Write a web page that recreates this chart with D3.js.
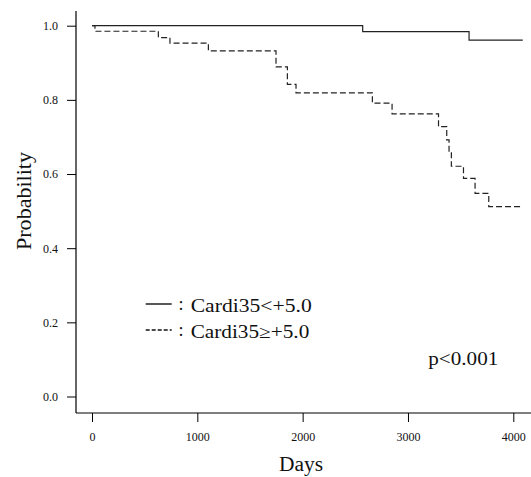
<!DOCTYPE html>
<html>
<head>
<meta charset="utf-8">
<title>Survival</title>
<script src="https://d3js.org/d3.v7.min.js"></script>
<style>
  body { margin: 0; background: #fff; }
  text { font-family: "Liberation Serif", serif; fill: #111; }
</style>
</head>
<body>
<div id="chart"></div>
<script>
// values
const xTicks = [0, 1000, 2000, 3000, 4000];
const yTicks = [0, 0.2, 0.4, 0.6, 0.8, 1.0];

const lowDays = [0, 2570, 3580, 4090];
const lowProb = [1.0, 0.984, 0.961, 0.961];

const highDays = [0, 28, 630, 740, 1105, 1747, 1855, 1937, 2662, 2849, 3290, 3368, 3390, 3412, 3527, 3637, 3767, 4081];
const highProb = [1.0, 0.985, 0.968, 0.953, 0.932, 0.889, 0.842, 0.819, 0.791, 0.762, 0.728, 0.692, 0.657, 0.621, 0.588, 0.548, 0.512, 0.512];

const legendLabels = ["Cardi35<+5.0", "Cardi35\u2265+5.0"];
const pText = "p<0.001";

const width = 531, height = 477;

let svg = d3.select("#chart").append("svg")
  .attr("width", width)
  .attr("height", height);

let x = d3.scaleLinear().domain([0, 4000]).range([92, 513.3]);
let y = d3.scaleLinear().domain([0, 1]).range([396.5, 25.7]);

// axis lines (L shape)
svg.append("line")
  .attr("x1", 76).attr("x2", 76).attr("y1", 11).attr("y2", 413)
  .attr("stroke", "#000").attr("stroke-width", 1.2);
svg.append("line")
  .attr("x1", 76).attr("x2", 531).attr("y1", 413).attr("y2", 413)
  .attr("stroke", "#000").attr("stroke-width", 1.2);

let axisY = d3.axisLeft(y).tickValues(yTicks).tickFormat(d3.format(".1f"))
  .tickSize(9).tickPadding(9);
let gy = svg.append("g").attr("transform", "translate(76,0)").call(axisY);
gy.select(".domain").remove();
gy.selectAll("text").style("font-family", "Liberation Serif, serif").style("font-size", "12px").attr("fill", "#222");

let axisX = d3.axisBottom(x).tickValues(xTicks).tickFormat(d3.format("d"))
  .tickSize(9).tickPadding(10);
let gx = svg.append("g").attr("transform", "translate(0,413)").call(axisX);
gx.select(".domain").remove();
gx.selectAll("text").style("font-family", "Liberation Serif, serif").style("font-size", "12px").attr("fill", "#222");

// curves
let line = d3.line()
  .x(d => x(d[0]))
  .y(d => y(d[1]))
  .curve(d3.curveStepAfter);

svg.append("path")
  .datum(d3.zip(lowDays, lowProb))
  .attr("d", line)
  .attr("fill", "none")
  .attr("stroke", "#222")
  .attr("stroke-width", 1.2);

svg.append("path")
  .datum(d3.zip(highDays, highProb))
  .attr("d", line)
  .attr("fill", "none")
  .attr("stroke", "#222")
  .attr("stroke-width", 1.2)
  .attr("stroke-dasharray", "6,3");

// axis titles
svg.append("text")
  .attr("x", 301).attr("y", 471)
  .attr("text-anchor", "middle")
  .attr("font-size", "20px")
  .attr("textLength", 44).attr("lengthAdjust", "spacingAndGlyphs")
  .text("Days");

svg.append("text")
  .attr("transform", "translate(31,201) rotate(-90)")
  .attr("text-anchor", "middle")
  .attr("font-size", "20px")
  .attr("textLength", 98).attr("lengthAdjust", "spacingAndGlyphs")
  .text("Probability");

// legend
let legendY = [304, 330];
let legendDash = [null, "4,2"];
let legendW = [121, 118.6];
legendLabels.forEach(function(lab, i){
  svg.append("line")
    .attr("x1", 145.7).attr("x2", 171.7)
    .attr("y1", legendY[i]).attr("y2", legendY[i])
    .attr("stroke", "#111").attr("stroke-width", 1.4)
    .attr("stroke-dasharray", legendDash[i]);
  svg.append("text")
    .attr("x", 178.5).attr("y", legendY[i] + 6)
    .attr("font-size", "18px")
    .text(":");
  svg.append("text")
    .attr("x", 190.7).attr("y", legendY[i] + 7.5)
    .attr("font-size", "18px")
    .attr("textLength", legendW[i]).attr("lengthAdjust", "spacingAndGlyphs")
    .text(lab);
});

svg.append("text")
  .attr("x", 428.3).attr("y", 365)
  .attr("font-size", "18px")
  .attr("textLength", 70).attr("lengthAdjust", "spacingAndGlyphs")
  .text(pText);

</script>
</body>
</html>
